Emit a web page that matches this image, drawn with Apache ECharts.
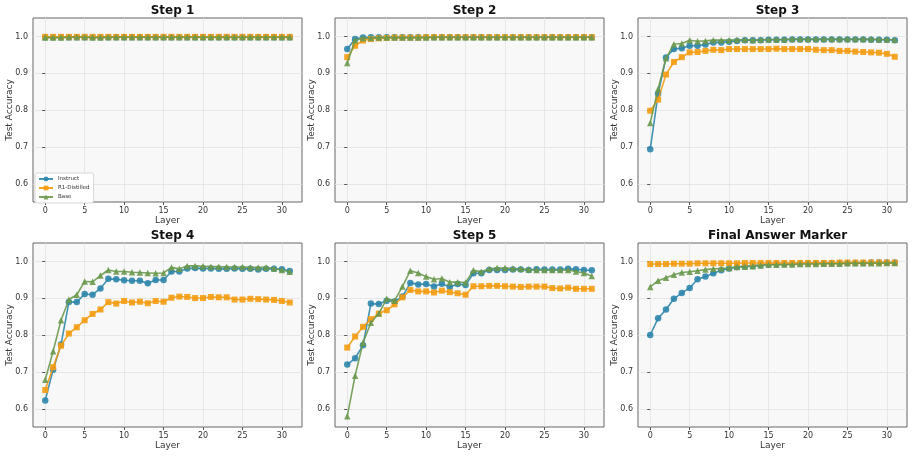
<!DOCTYPE html>
<html>
<head>
<meta charset="utf-8">
<script src="https://cdn.jsdelivr.net/npm/echarts@6/dist/echarts.min.js"></script>
<style>
  html, body { margin: 0; padding: 0; background: #fff; }
  #chart { width: 913px; height: 456px; }
</style>
</head>
<body>
<div id="chart"></div>
<script>
var layers = [];
for (var l = 0; l < 32; l++) layers.push(l);

var panelTitles = ['Step 1', 'Step 2', 'Step 3', 'Step 4', 'Step 5', 'Final Answer Marker'];
var seriesNames = ['Instruct', 'R1-Distilled', 'Base'];
var colors = ['#2E86AB', '#F39C12', '#6A994E'];
var symbols = ['circle', 'rect', 'triangle'];
var xTicks = [0, 5, 10, 15, 20, 25, 30];
var yTicks = [0.6, 0.7, 0.8, 0.9, 1.0];

// step 1
var step1Instruct = [0.998,0.998,0.998,0.998,0.998,0.998,0.998,0.998,0.998,0.998,0.998,0.998,0.998,0.998,0.998,0.998,0.998,0.998,0.998,0.998,0.998,0.998,0.998,0.998,0.998,0.998,0.998,0.998,0.998,0.998,0.998,0.998];
var step1R1 = [0.999,0.999,0.999,0.999,0.999,0.999,0.999,0.999,0.999,0.999,0.999,0.999,0.999,0.999,0.999,0.999,0.999,0.999,0.999,0.999,0.999,0.999,0.999,0.999,0.999,0.999,0.999,0.999,0.999,0.999,0.999,0.999];
var step1Base = [0.997,0.997,0.997,0.998,0.998,0.998,0.997,0.997,0.998,0.998,0.998,0.998,0.998,0.998,0.998,0.998,0.998,0.998,0.998,0.998,0.998,0.998,0.998,0.998,0.998,0.998,0.998,0.998,0.998,0.998,0.998,0.998];

// step 2
var step2Instruct = [0.966,0.993,0.997,0.998,0.998,0.998,0.998,0.998,0.998,0.998,0.998,0.998,0.998,0.998,0.998,0.998,0.998,0.998,0.998,0.998,0.998,0.998,0.998,0.998,0.998,0.998,0.998,0.998,0.998,0.998,0.998,0.998];
var step2R1 = [0.944,0.975,0.989,0.993,0.995,0.996,0.997,0.997,0.997,0.997,0.998,0.998,0.998,0.998,0.998,0.998,0.998,0.998,0.998,0.998,0.998,0.998,0.998,0.998,0.998,0.998,0.998,0.998,0.998,0.998,0.998,0.998];
var step2Base = [0.928,0.990,0.995,0.996,0.997,0.997,0.997,0.997,0.997,0.997,0.997,0.998,0.998,0.998,0.998,0.998,0.998,0.998,0.998,0.998,0.998,0.998,0.998,0.998,0.998,0.998,0.998,0.998,0.998,0.998,0.998,0.998];

// step 3
var step3Instruct = [0.695,0.845,0.943,0.966,0.968,0.975,0.975,0.978,0.984,0.984,0.986,0.988,0.990,0.990,0.990,0.991,0.991,0.991,0.992,0.992,0.992,0.992,0.992,0.992,0.992,0.992,0.992,0.992,0.991,0.991,0.991,0.990];
var step3R1 = [0.799,0.829,0.897,0.931,0.944,0.957,0.958,0.961,0.964,0.963,0.966,0.966,0.966,0.966,0.966,0.966,0.967,0.966,0.966,0.966,0.966,0.964,0.963,0.963,0.961,0.961,0.959,0.958,0.957,0.956,0.953,0.945];
var step3Base = [0.766,0.858,0.941,0.979,0.981,0.990,0.987,0.988,0.990,0.990,0.990,0.991,0.991,0.990,0.991,0.992,0.992,0.992,0.993,0.993,0.993,0.993,0.993,0.993,0.993,0.993,0.993,0.993,0.993,0.992,0.992,0.991];

// step 4
var step4Instruct = [0.624,0.707,0.775,0.890,0.890,0.912,0.910,0.927,0.953,0.952,0.949,0.948,0.948,0.941,0.950,0.950,0.973,0.973,0.981,0.982,0.981,0.981,0.980,0.980,0.981,0.980,0.980,0.978,0.980,0.980,0.979,0.974];
var step4R1 = [0.652,0.714,0.772,0.805,0.822,0.841,0.858,0.870,0.890,0.886,0.893,0.889,0.891,0.887,0.893,0.891,0.902,0.905,0.904,0.901,0.901,0.904,0.903,0.903,0.897,0.897,0.899,0.898,0.897,0.896,0.893,0.889];
var step4Base = [0.680,0.757,0.841,0.897,0.910,0.946,0.945,0.962,0.977,0.973,0.973,0.971,0.970,0.969,0.968,0.969,0.984,0.980,0.988,0.988,0.987,0.986,0.986,0.985,0.985,0.985,0.984,0.984,0.984,0.981,0.977,0.972];

// step 5
var step5Instruct = [0.721,0.738,0.773,0.886,0.885,0.894,0.892,0.905,0.942,0.938,0.939,0.932,0.940,0.931,0.939,0.936,0.968,0.968,0.977,0.977,0.977,0.978,0.978,0.977,0.979,0.978,0.978,0.978,0.980,0.979,0.977,0.976];
var step5R1 = [0.767,0.797,0.823,0.844,0.859,0.868,0.884,0.903,0.923,0.919,0.919,0.916,0.921,0.917,0.914,0.910,0.933,0.933,0.934,0.934,0.933,0.932,0.931,0.932,0.932,0.932,0.928,0.927,0.929,0.926,0.926,0.926];
var step5Base = [0.581,0.691,0.780,0.834,0.859,0.899,0.894,0.932,0.975,0.969,0.959,0.952,0.954,0.944,0.944,0.943,0.976,0.972,0.980,0.982,0.982,0.981,0.980,0.978,0.977,0.977,0.977,0.977,0.977,0.973,0.969,0.961];

// final answer marker
var finalInstruct = [0.801,0.846,0.870,0.899,0.915,0.928,0.952,0.959,0.968,0.976,0.981,0.985,0.987,0.988,0.990,0.992,0.993,0.993,0.994,0.994,0.995,0.995,0.995,0.996,0.996,0.996,0.996,0.996,0.997,0.997,0.997,0.997];
var finalR1 = [0.993,0.993,0.993,0.994,0.994,0.994,0.995,0.995,0.995,0.995,0.995,0.995,0.996,0.996,0.996,0.996,0.996,0.996,0.996,0.996,0.996,0.996,0.996,0.996,0.997,0.997,0.997,0.997,0.997,0.997,0.997,0.997];
var finalBase = [0.931,0.948,0.956,0.964,0.970,0.972,0.975,0.978,0.980,0.981,0.982,0.985,0.986,0.987,0.989,0.991,0.991,0.992,0.992,0.993,0.993,0.993,0.994,0.994,0.994,0.995,0.995,0.995,0.995,0.995,0.996,0.996];

var panels = [
    [step1Instruct, step1R1, step1Base],
    [step2Instruct, step2R1, step2Base],
    [step3Instruct, step3R1, step3Base],
    [step4Instruct, step4R1, step4Base],
    [step5Instruct, step5R1, step5Base],
    [finalInstruct, finalR1, finalBase]
];

var colLeft = [33, 335, 638];
var rowTop = [18, 243];
var gridW = 269, gridH = 184;

var grids = [], xAxes = [], yAxes = [], titles = [], series = [];

for (var p = 0; p < 6; p++) {
    var col = p % 3, row = Math.floor(p / 3);
    grids.push({
        left: colLeft[col], top: rowTop[row], width: gridW, height: gridH,
        show: true, backgroundColor: '#f8f8f8', borderColor: '#666', borderWidth: 1
    });
    titles.push({
        text: panelTitles[p],
        left: colLeft[col] + gridW / 2,
        top: rowTop[row] - 18,
        textAlign: 'center',
        textStyle: { fontSize: 12, fontWeight: 'bold', color: '#111', fontFamily: 'DejaVu Sans' }
    });
    xAxes.push({
        type: 'value', gridIndex: p, min: -1.55, max: 32.55,
        name: 'Layer', nameLocation: 'middle', nameGap: 14,
        nameTextStyle: { fontSize: 9, color: '#333', fontFamily: 'DejaVu Sans' },
        nameMoveOverlap: false,
        axisLine: { show: false },
        axisTick: { show: true, length: 3, customValues: xTicks, lineStyle: { color: '#555' } },
        axisLabel: { customValues: xTicks, fontSize: 8, color: '#333', margin: 5, fontFamily: 'DejaVu Sans' },
        splitLine: { show: true, lineStyle: { color: '#e2e2e2', width: 0.8 } }
    });
    yAxes.push({
        type: 'value', gridIndex: p, min: 0.552, max: 1.05,
        name: 'Test Accuracy', nameLocation: 'middle', nameGap: 19,
        nameTextStyle: { fontSize: 9, color: '#333', fontFamily: 'DejaVu Sans' },
        nameMoveOverlap: false,
        axisLine: { show: false },
        axisTick: { show: true, length: 3, customValues: yTicks, lineStyle: { color: '#555' } },
        axisLabel: {
            customValues: yTicks, fontSize: 8, color: '#333', margin: 5, fontFamily: 'DejaVu Sans',
            formatter: function (v) { return v.toFixed(1); }
        },
        splitLine: { show: true, lineStyle: { color: '#e2e2e2', width: 0.8 } }
    });
    for (var s = 0; s < 3; s++) {
        var vals = panels[p][s];
        var data = [];
        for (var k = 0; k < layers.length; k++) data.push([layers[k], vals[k]]);
        series.push({
            name: seriesNames[s], type: 'line', xAxisIndex: p, yAxisIndex: p,
            data: data, symbol: symbols[s], symbolSize: s === 1 ? 6 : 6.5,
            showSymbol: true, silent: true, animation: false,
            lineStyle: { color: colors[s], width: 1.6, opacity: 0.9 },
            itemStyle: { color: colors[s], opacity: 0.9 },
            z: 2 + s
        });
    }
}

var myChart = echarts.init(document.getElementById('chart'), null, { renderer: 'canvas' });
myChart.setOption({
    backgroundColor: '#fff',
    animation: false,
    title: titles,
    grid: grids,
    xAxis: xAxes,
    yAxis: yAxes,
    legend: {
        data: seriesNames,
        orient: 'vertical',
        left: 35, top: 173,
        itemWidth: 14, itemHeight: 6, itemGap: 3,
        padding: [3, 4, 3, 3],
        backgroundColor: '#fff',
        borderColor: '#ccc', borderWidth: 0.8, borderRadius: 2,
        textStyle: { fontSize: 5.5, color: '#333', fontFamily: 'DejaVu Sans' }
    },
    series: series
});
</script>
</body>
</html>
